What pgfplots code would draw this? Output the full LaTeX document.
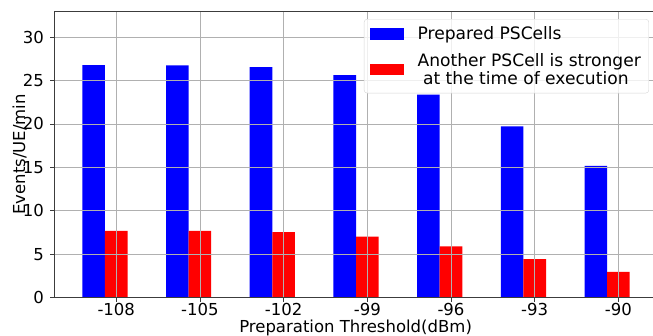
\documentclass[border=0pt]{standalone}
\usepackage{fontspec}
\setmainfont{DejaVu Sans}
\usepackage{pgfplots}
\pgfplotsset{compat=1.18}
\definecolor{gridgray}{RGB}{176,176,176}
\definecolor{legedge}{RGB}{214,214,214}
\definecolor{spine}{RGB}{60,60,60}
\begin{document}
\begin{tikzpicture}
\path[use as bounding box] (-54.3pt,-38.3pt) rectangle (598.7pt,297.7pt);
\begin{axis}[
  at={(0pt,0pt)}, anchor=south west,
  scale only axis, width=602.6pt, height=286.7pt,
  xmin=-0.74, xmax=6.46, ymin=0, ymax=33,
  ybar, bar width=0.27,
  axis on top,
  axis line style={spine, line width=0.8pt},
  grid=major,
  major grid style={gridgray, line width=0.8pt},
  xtick={0,1,2,3,4,5,6},
  xticklabels={-108,-105,-102,-99,-96,-93,-90},
  ytick={0,5,10,15,20,25,30},
  xtick pos=bottom, ytick pos=left,
  tick align=outside, major tick length=4pt,
  major tick style={spine, line width=0.8pt},
  /pgf/number format/assume math mode=true,
  tick label style={font=\fontsize{16.5}{19.8}\selectfont, text=black},
  xticklabel style={anchor=base, yshift=-13.6pt},
  yticklabel style={anchor=east, inner sep=0pt, xshift=-6.3pt},
  label style={font=\fontsize{16.5}{19.8}\selectfont},
  xlabel={Preparation Threshold(dBm)},
  ylabel={Events/UE/min},
  xlabel style={at={(axis description cs:0.5,0)}, anchor=base, yshift=-35.3pt},
  ylabel style={at={(axis description cs:-0.0486,0.5)}, anchor=base},
  legend cell align=left,
  legend image code/.code={\fill[#1, fill opacity=1, sharp corners] (0pt,-5.7pt) rectangle (34pt,5.7pt);},
  legend style={at={(0.9869,0.972)}, anchor=north east,
    font=\fontsize{17.1}{17.4}\selectfont,
    draw=legedge, rounded corners=3pt, fill=white, fill opacity=0.8, text opacity=1,
    nodes={align=left, font=\fontsize{17.1}{17.4}\selectfont},
    inner xsep=6pt, inner ysep=5.5pt,
    row sep=8.5pt,
    /tikz/every odd column/.append style={column sep=11.5pt}},
]
\addplot[fill=blue, draw=none, bar shift=0pt] coordinates {
(-0.27,26.78) (0.73,26.74) (1.73,26.55) (2.73,25.62) (3.73,23.36) (4.73,19.72) (5.73,15.16)};
\addplot[fill=red, draw=none, bar shift=0pt] coordinates {
(0,7.68) (1,7.68) (2,7.56) (3,7.02) (4,5.91) (5,4.45) (6,2.96)};
\legend{Prepared PSCells, {Another PSCell is stronger\\\hspace*{5.5pt}at the time of execution}}
\end{axis}
\end{tikzpicture}
\end{document}
